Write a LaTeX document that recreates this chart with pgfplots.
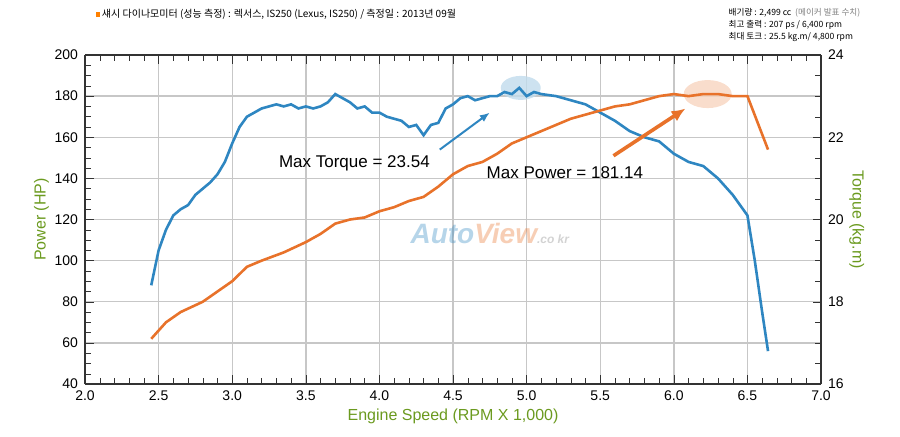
\documentclass[border=0pt]{standalone}
\usepackage{pgfplots}
\pgfplotsset{compat=1.18}
\usetikzlibrary{arrows.meta}
\usepackage{fontspec}
\setmainfont{Liberation Sans}
\newfontfamily\kr{Noto Sans CJK KR}
\definecolor{tq}{HTML}{2E86C1}
\definecolor{pw}{HTML}{E8722A}
\definecolor{lab}{HTML}{6B9A1F}
\begin{document}
\begin{tikzpicture}
\pgfplotsset{every axis/.append style={scale only axis,width=368pt,height=164.5pt,
  /pgf/number format/assume math mode=true, tick label style={font=\fontsize{7}{8}\selectfont}}}
\begin{axis}[
  xmin=2,xmax=7,ymin=40,ymax=200,
  xtick={2,2.5,...,7}, ytick={40,60,...,200},
  xticklabel style={/pgf/number format/.cd,fixed,fixed zerofill,precision=1},
  minor x tick num=4, minor y tick num=3,
  axis y line*=left,
  xmajorgrids, ymajorgrids, major grid style={draw=black!22,line width=0.7pt},
  axis line style={line width=1pt,black!80},
  tick style={black!80},
  tick align=inside,
  xlabel={Engine Speed (RPM X 1,000)}, ylabel={Power (HP)},
  label style={font=\fontsize{8}{9}\selectfont, text=lab},
  xlabel style={yshift=3pt}, ylabel style={yshift=-4pt},
  clip=false]
\path[use as bounding box] (rel axis cs:-0.1155,-0.158) rectangle (rel axis cs:1.1073,1.1672);
\fill[tq!30,opacity=0.8] (axis cs:4.96,184) ellipse [x radius=10pt,y radius=6pt];
\fill[pw!30,opacity=0.8] (axis cs:6.23,181) ellipse [x radius=12pt,y radius=7pt];
\node[opacity=0.35,font=\bfseries\itshape\fontsize{14}{14}\selectfont] at (axis cs:4.75,113) {\textcolor{tq}{Auto}\textcolor{pw}{View}\textcolor{gray}{\fontsize{6}{6}\selectfont .co kr}};
\addplot[tq,line width=1.3pt] coordinates {
(2.45,88)(2.5,105)(2.55,115)(2.6,122)(2.65,125)(2.7,127)(2.75,132)(2.8,135)(2.85,138)(2.9,142)(2.95,148)(3.0,157)(3.05,165)(3.1,170)(3.15,172)(3.2,174)(3.25,175)(3.3,176)(3.35,175)(3.4,176)(3.45,174)(3.5,175)(3.55,174)(3.6,175)(3.65,177)(3.7,181)(3.75,179)(3.8,177)(3.85,174)(3.9,175)(3.95,172)(4.0,172)(4.05,170)(4.1,169)(4.15,168)(4.2,165)(4.25,166)(4.3,161)(4.35,166)(4.4,167)(4.45,174)(4.5,176)(4.55,179)(4.6,180)(4.65,178)(4.7,179)(4.75,180)(4.8,180)(4.85,182)(4.9,181)(4.95,184)(5.0,180)(5.05,182)(5.1,181)(5.2,180)(5.3,178)(5.4,176)(5.5,172)(5.6,168)(5.7,163)(5.8,160)(5.9,158)(6.0,152)(6.1,148)(6.2,146)(6.3,140)(6.4,132)(6.45,127)(6.5,122)(6.55,100)(6.6,75)(6.64,56)};
\addplot[pw,line width=1.3pt] coordinates {
(2.45,62)(2.55,70)(2.65,75)(2.8,80)(2.9,85)(3.0,90)(3.1,97)(3.2,100)(3.35,104)(3.5,109)(3.6,113)(3.7,118)(3.8,120)(3.9,121)(4.0,124)(4.1,126)(4.2,129)(4.3,131)(4.4,136)(4.5,142)(4.6,146)(4.7,148)(4.8,152)(4.9,157)(5.0,160)(5.1,163)(5.2,166)(5.3,169)(5.4,171)(5.5,173)(5.6,175)(5.7,176)(5.8,178)(5.9,180)(6.0,181)(6.1,180)(6.2,181)(6.3,181)(6.4,180)(6.5,180)(6.64,154)};
\draw[tq,line width=1pt,-{Latex[length=5pt,width=4pt]}] (axis cs:4.41,154) -- (axis cs:4.75,172);
\draw[pw,line width=1.8pt,-{Latex[length=7pt,width=6pt]}] (axis cs:5.59,151) -- (axis cs:6.08,174);
\node[font=\fontsize{8.5}{9}\selectfont] at (axis cs:3.83,147.5) {Max Torque = 23.54};
\node[font=\fontsize{8.5}{9}\selectfont] at (axis cs:5.26,143) {Max Power = 181.14};
\node[anchor=west,font=\kr\fontsize{5}{6}\selectfont] at (rel axis cs:0.005,1.125) {\textcolor{orange}{\rule{2pt}{2.5pt}}\ 섀시 다이나모미터 (성능 측정) : 렉서스, IS250 (Lexus, IS250) / 측정일 : 2013년 09월};
\node[anchor=north west,align=left,font=\kr\fontsize{4.3}{6}\selectfont] at (rel axis cs:0.865,1.163) {배기량 : 2,499 cc \ \textcolor{gray}{(메이커 발표 수치)}\\최고 출력 : 207 ps / 6,400 rpm\\최대 토크 : 25.5 kg.m/ 4,800 rpm};
\end{axis}
\begin{axis}[xmin=2,xmax=7,ymin=16,ymax=24,ytick={16,18,...,24},minor y tick num=3,
  axis y line*=right, axis x line=none, tick align=inside,
  axis line style={line width=1pt,black!80}, tick style={black!80},
  ylabel={Torque (kg.m)}, ylabel style={font=\fontsize{8}{9}\selectfont,text=lab,rotate=180,yshift=-4pt}]
\end{axis}
\end{tikzpicture}
\end{document}
